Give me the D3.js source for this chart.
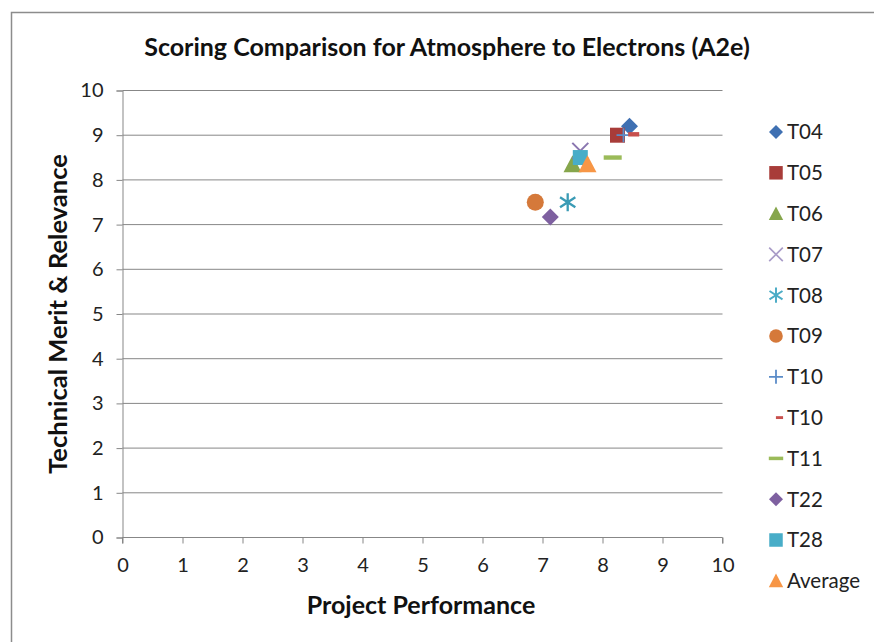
<!DOCTYPE html>
<html><head><meta charset="utf-8">
<script src="https://cdn.jsdelivr.net/npm/d3@7"></script>
<style>body{margin:0;background:#fff}svg{display:block}</style>
</head><body><svg id="c" width="874" height="642"></svg>
<script>
const seriesNames = ["T04","T05","T06","T07","T08","T09","T10","T10","T11","T22","T28","Average"];
const projectPerformance = [8.45, 8.25, 7.5, 7.63, 7.42, 6.88, 8.35, 8.52, 8.17, 7.13, 7.63, 7.75];
const technicalMerit = [9.2, 9.0, 8.35, 8.65, 7.5, 7.5, 9.0, 9.02, 8.5, 7.17, 8.5, 8.35];
const markerShapes = ["diamond","square","triangle","x","star","circle","plus","dashS","dash","diamond","square","triangle"];
const markerColors = ["#3F70B2","#A83C39","#86A64C","#8A76B0","#3A9BB5","#D5793A","#5B8CC8","#C8504D","#9BBB59","#7E60A0","#48ADC8","#F79646"];
const legendColors = ["#3F70B2","#A83C39","#86A64C","#A99CC8","#4BACC6","#D5793A","#5B8CC8","#C8504D","#9BBB59","#7E60A0","#48ADC8","#F79646"];
const xTicks = [0,1,2,3,4,5,6,7,8,9,10];
const yTicks = [0,1,2,3,4,5,6,7,8,9,10];

const svg = d3.select("#c");
const font = "Lato, 'Open Sans', sans-serif";
svg.append("rect").attr("x",11.5).attr("y",12.5).attr("width",900).attr("height",700)
  .attr("fill","#fff").attr("stroke","#8c8c8c").attr("stroke-width",1.5);

const x = d3.scaleLinear().domain([0,10]).range([122.5,722.5]);
const y = d3.scaleLinear().domain([0,10]).range([537.5,90.5]);

svg.append("g").selectAll("line").data(yTicks.filter(d=>d>0)).join("line")
  .attr("x1",x(0)).attr("x2",x(10)).attr("y1",d=>y(d)).attr("y2",d=>y(d))
  .attr("stroke","#878787").attr("stroke-width",1);

const xAxis = svg.append("g").attr("transform",`translate(0,${y(0)})`)
  .call(d3.axisBottom(x).tickValues(xTicks).tickSize(6).tickPadding(14).tickFormat(d3.format("d")));
const yAxis = svg.append("g").attr("transform",`translate(${x(0)},0)`)
  .call(d3.axisLeft(y).tickValues(yTicks).tickSize(6).tickPadding(13).tickFormat(d3.format("d")));
[xAxis,yAxis].forEach(a=>{
  a.select(".domain").attr("stroke","#878787");
  a.selectAll(".tick line").attr("stroke","#878787");
  a.selectAll("text").attr("font-family",font).attr("font-size","20px").attr("fill","#222");
});
xAxis.select(".domain").attr("d",`M${x(0)},6V0H${x(10)}V6`);

function marker(g, shape, color, s){
  switch(shape){
    case "diamond": { const r=8.5*s;
      g.append("path").attr("d",`M0,${-r}L${r},0L0,${r}L${-r},0Z`).attr("fill",color); break; }
    case "square": { const r=7.5*s;
      g.append("rect").attr("x",-r).attr("y",-r).attr("width",2*r).attr("height",2*r).attr("fill",color); break; }
    case "triangle": { const r=9*s;
      g.append("path").attr("d",`M0,${-r}L${r},${r*0.9}L${-r},${r*0.9}Z`).attr("fill",color); break; }
    case "circle":
      g.append("circle").attr("r",8.5*s).attr("fill",color); break;
    case "x": { const r=8*s;
      g.append("path").attr("d",`M${-r},${-r}L${r},${r}M${r},${-r}L${-r},${r}`).attr("stroke",color).attr("stroke-width",2*s).attr("fill","none"); break; }
    case "star": { const r=9*s;
      g.append("path").attr("d",`M0,${-r}L0,${r}M${-r*0.85},${-r*0.55}L${r*0.85},${r*0.55}M${r*0.85},${-r*0.55}L${-r*0.85},${r*0.55}`).attr("stroke",color).attr("stroke-width",2.3*s).attr("fill","none"); break; }
    case "plus": { const r=7*s;
      g.append("path").attr("d",`M0,${-r}L0,${r}M${-r},0L${r},0`).attr("stroke",color).attr("stroke-width",1.8*s).attr("fill","none"); break; }
    case "dash": { const r=9*s;
      g.append("rect").attr("x",-r).attr("y",-2.2*s).attr("width",2*r).attr("height",4.4*s).attr("fill",color); break; }
    case "dashS": { const r=5.5*s;
      g.append("rect").attr("x",-r).attr("y",-2.2*s).attr("width",2*r).attr("height",4.4*s).attr("fill",color); break; }
  }
}

const pts = svg.append("g");
seriesNames.forEach((n,i)=>{
  const g = pts.append("g").attr("transform",`translate(${x(projectPerformance[i])},${y(technicalMerit[i])})`);
  marker(g, markerShapes[i], markerColors[i], 1);
});

const leg = svg.append("g");
seriesNames.forEach((n,i)=>{
  const cy = 132 + i*40.8;
  const sh = markerShapes[i];
  let ls = {x:0.85, plus:1, star:0.85, square:0.9, diamond:0.82, triangle:0.8, circle:0.8}[sh] || 0.8;
  let cx = 776;
  if (sh==="dash") { ls = 0.8; }
  if (sh==="dashS") { ls = 0.65; cx = 779.5; }
  const g = leg.append("g").attr("transform",`translate(${cx},${cy})`);
  marker(g, sh, legendColors[i], ls);
  leg.append("text").attr("x",787).attr("y",cy).attr("dy","0.36em")
    .attr("font-family",font).attr("font-size","20.5px").attr("fill","#222").text(n);
});

svg.append("text").attr("x",447).attr("y",47).attr("dy","0.36em").attr("text-anchor","middle")
  .attr("font-family",font).attr("font-weight","bold").attr("font-size","25px").attr("fill","#111")
  .text("Scoring Comparison for Atmosphere to Electrons (A2e)");
svg.append("text").attr("x",421).attr("y",605).attr("dy","0.36em").attr("text-anchor","middle")
  .attr("font-family",font).attr("font-weight","bold").attr("font-size","25px").attr("fill","#111")
  .text("Project Performance");
svg.append("text").attr("transform","translate(58,314) rotate(-90)").attr("dy","0.36em").attr("text-anchor","middle")
  .attr("font-family",font).attr("font-weight","bold").attr("font-size","25.5px").attr("fill","#111")
  .text("Technical Merit & Relevance");
</script></body></html>
